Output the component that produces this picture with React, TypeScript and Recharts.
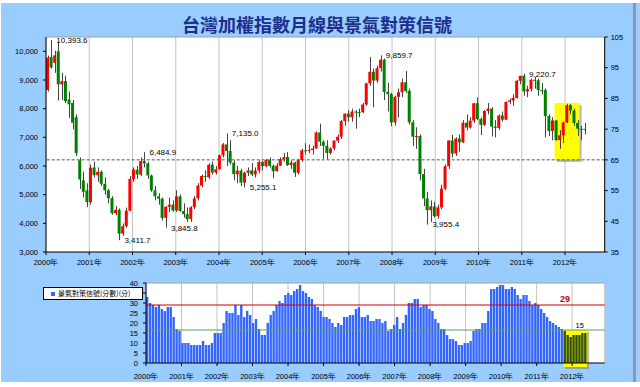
import {
  ComposedChart, Bar, XAxis, YAxis, CartesianGrid, ReferenceLine, ReferenceArea, ReferenceDot, Legend, Cell,
} from 'recharts'

// monthly TAIEX candles [open, high, low, close]
const k2000 = [
  [8650, 9850, 8600, 9780], [9800, 10393.6, 9400, 9436], [9600, 10020, 9250, 9860], [10000, 10330, 8280, 8850],
  [8850, 9250, 8300, 8960], [8960, 9150, 8200, 8265], [8320, 8600, 7680, 8150], [8200, 8300, 7280, 7510],
  [7700, 7800, 6350, 6450], [6200, 6300, 5200, 5530], [5500, 5800, 4900, 5100], [5150, 5400, 4570, 4740],
]
const k2001 = [
  [4740, 6050, 4650, 5940], [5950, 6150, 5600, 5680], [5680, 5950, 5450, 5800], [5800, 5850, 5300, 5380],
  [5380, 5600, 5000, 5150], [5150, 5200, 4700, 4880], [4880, 4950, 4300, 4350], [4350, 4600, 4280, 4470],
  [4470, 4520, 3411.7, 3640], [3640, 4000, 3560, 3900], [3900, 4550, 3850, 4440], [4440, 5650, 4420, 5550],
]
const k2002 = [
  [5550, 5950, 5450, 5870], [5870, 6000, 5550, 5700], [5700, 6300, 5650, 6170], [6170, 6484.9, 5950, 6090],
  [6090, 6150, 5550, 5670], [5670, 5700, 5100, 5150], [5150, 5300, 4800, 4940], [4940, 5050, 4650, 4860],
  [4860, 4900, 4100, 4190], [4190, 4600, 3845.8, 4580], [4580, 4900, 4400, 4650], [4650, 4800, 4400, 4450],
]
const k2003 = [
  [4450, 5150, 4400, 4940], [4940, 5000, 4400, 4430], [4430, 4700, 4200, 4320], [4320, 4550, 4045, 4150],
  [4150, 4600, 4050, 4560], [4560, 4950, 4500, 4870], [4870, 5400, 4800, 5320], [5320, 5700, 5250, 5650],
  [5650, 5850, 5450, 5610], [5610, 6100, 5550, 6045], [6045, 6150, 5700, 5770], [5770, 6000, 5700, 5890],
]
const k2004 = [
  [5890, 6400, 5870, 6375], [6375, 6800, 6300, 6751], [6751, 7135.0, 6000, 6522], [6522, 6900, 6050, 6117],
  [6117, 6200, 5500, 5713], [5713, 6000, 5400, 5839], [5839, 5900, 5300, 5420], [5420, 5800, 5255.1, 5765],
  [5765, 5950, 5650, 5845], [5845, 6100, 5650, 5705], [5705, 5950, 5600, 5844], [5844, 6200, 5750, 6140],
]
const k2005 = [
  [6140, 6180, 5850, 5994], [5994, 6250, 5950, 6207], [6207, 6300, 5950, 6006], [6006, 6050, 5570, 5819],
  [5819, 6100, 5800, 6012], [6012, 6300, 6000, 6241], [6241, 6450, 6150, 6312], [6312, 6480, 6000, 6033],
  [6033, 6200, 5900, 6119], [6119, 6150, 5620, 5764], [5764, 6250, 5700, 6203], [6203, 6600, 6150, 6548],
]
const k2006 = [
  [6548, 6800, 6400, 6532], [6532, 6750, 6450, 6561], [6561, 6700, 6400, 6613], [6613, 7200, 6600, 7171],
  [7171, 7474, 6700, 6846], [6846, 6900, 6250, 6704], [6704, 6900, 6232, 6455], [6455, 6650, 6400, 6611],
  [6611, 6900, 6550, 6884], [6884, 7100, 6800, 7021], [7021, 7600, 6950, 7567], [7567, 7850, 7400, 7823],
]
const k2007 = [
  [7823, 7950, 7550, 7699], [7699, 8000, 7550, 7901], [7901, 7950, 7300, 7884], [7884, 8000, 7700, 7875],
  [7875, 8200, 7850, 8145], [8145, 8900, 8100, 8883], [8883, 9800, 8800, 9287], [9287, 9400, 8050, 8982],
  [8982, 9500, 8900, 9411], [9411, 9859.7, 9300, 9711], [9711, 9750, 8300, 8586], [8586, 8900, 7900, 8506],
]
const k2008 = [
  [8506, 8550, 7384, 7521], [7521, 8450, 7400, 8412], [8412, 8700, 7700, 8572], [8572, 9050, 8400, 8920],
  [8920, 9309, 8550, 8619], [8619, 8700, 7450, 7524], [7524, 7600, 6700, 7024], [7024, 7350, 6600, 7046],
  [7046, 7100, 5500, 5719], [5719, 5900, 4600, 4870], [4870, 5100, 3955.4, 4460], [4460, 4800, 4050, 4591],
]
const k2009 = [
  [4591, 4750, 4200, 4248], [4248, 4650, 4160, 4557], [4557, 5350, 4500, 5210], [5210, 6050, 5150, 5992],
  [5992, 6900, 5900, 6890], [6890, 7084, 6300, 6432], [6432, 7000, 6350, 6958], [6958, 7100, 6500, 6826],
  [6826, 7600, 6800, 7509], [7509, 7800, 7250, 7340], [7340, 7700, 7300, 7582], [7582, 8200, 7500, 8188],
]
const k2010 = [
  [8188, 8395, 7600, 7640], [7640, 7700, 7080, 7436], [7436, 7950, 7400, 7920], [7920, 8200, 7800, 8004],
  [8004, 8050, 7030, 7374], [7374, 7600, 7000, 7329], [7329, 7800, 7250, 7761], [7761, 7900, 7550, 7616],
  [7616, 8250, 7600, 8238], [8238, 8350, 8150, 8287], [8287, 8500, 8100, 8372], [8372, 9000, 8350, 8973],
]
const k2011 = [
  [8973, 9150, 8850, 9145], [9145, 9220.7, 8450, 8600], [8600, 8800, 8400, 8683], [8683, 9050, 8600, 9008],
  [9008, 9100, 8700, 8989], [8989, 9050, 8450, 8653], [8653, 8900, 8500, 8644], [8644, 8700, 7000, 7741],
  [7741, 7800, 7050, 7225], [7225, 7700, 6900, 7588], [7588, 7600, 6880, 6904], [6904, 7250, 6600, 7072],
]
const k2012 = [
  [7072, 7550, 6800, 7517], [7517, 8170, 7500, 8121], [8121, 8170, 7800, 7933], [7933, 8000, 7400, 7501],
  [7501, 7600, 7050, 7301], [7301, 7400, 6900, 7296], [7296, 7500, 7100, 7270],
]

// 景氣對策信號 scores
const s2000 = [33, 30, 29, 28, 29, 27, 26, 28, 28, 23, 17, 16]
const s2001 = [10, 10, 10, 9, 9, 9, 9, 11, 9, 9, 10, 15]
const s2002 = [15, 15, 20, 26, 25, 25, 29, 24, 29, 23, 26, 24]
const s2003 = [20, 22, 17, 14, 14, 20, 24, 26, 29, 31, 30, 34]
const s2004 = [35, 34, 36, 37, 39, 36, 35, 33, 32, 29, 28, 26]
const s2005 = [23, 23, 22, 20, 18, 20, 19, 23, 23, 24, 24, 27]
const s2006 = [28, 23, 23, 24, 21, 21, 22, 22, 20, 21, 16, 17]
const s2007 = [19, 23, 17, 20, 24, 30, 30, 32, 32, 28, 29, 29]
const s2008 = [27, 26, 22, 20, 17, 17, 14, 12, 12, 11, 9, 9]
const s2009 = [10, 10, 11, 16, 17, 17, 20, 20, 26, 37, 37, 38]
const s2010 = [39, 39, 37, 37, 38, 37, 34, 32, 34, 34, 31, 29]
const s2011 = [30, 29, 27, 25, 23, 21, 20, 19, 18, 17, 16, 14]
const s2012 = [13, 14, 14, 14, 15, 15]

const YEAR_LABELS = ['2000年', '2001年', '2002年', '2003年', '2004年', '2005年', '2006年', '2007年', '2008年', '2009年', '2010年', '2011年', '2012年']
const YEAR_TICKS = [0, 12, 24, 36, 48, 60, 72, 84, 96, 108, 120, 132, 144]
const LEFT_TICKS = [3000, 4000, 5000, 6000, 7000, 8000, 9000, 10000]
const RIGHT_TICKS = [35, 45, 55, 65, 75, 85, 95, 105]
const SCORE_TICKS = [0, 5, 10, 15, 20, 25, 30, 35, 40]

const NOTES = [
  { m: '2000-02', v: 10393.6 }, { m: '2001-09', v: 3411.7 }, { m: '2002-04', v: 6484.9 },
  { m: '2002-10', v: 3845.8 }, { m: '2004-03', v: 7135.0 }, { m: '2004-08', v: 5255.1 },
  { m: '2007-10', v: 9859.7 }, { m: '2008-11', v: 3955.4 }, { m: '2011-02', v: 9220.7 },
]
const HOT = 29
const COLD = 16.5
const LATEST = { m: '2012-04', v: 15 }
const HL = { from: '2011-11', toK: '2012-05', toS: '2012-06', lo: 65, hi: 83.5 }

const MONTHS: string[] = []
for (let y = 2000; y <= 2012; y++) for (let mm = 1; mm <= 12; mm++) MONTHS.push(`${y}-${String(mm).padStart(2, '0')}`)

const K = [...k2000, ...k2001, ...k2002, ...k2003, ...k2004, ...k2005, ...k2006, ...k2007, ...k2008, ...k2009, ...k2010, ...k2011, ...k2012]
const S = [...s2000, ...s2001, ...s2002, ...s2003, ...s2004, ...s2005, ...s2006, ...s2007, ...s2008, ...s2009, ...s2010, ...s2011, ...s2012]

const data = MONTHS.map((m, i) => {
  const k = K[i]
  return { m, o: k?.[0], h: k?.[1], l: k?.[2], c: k?.[3], s: S[i] }
})
const hlStart = MONTHS.indexOf(HL.from)

const FONT = '"Liberation Sans", Arial, sans-serif'
const tickStyle = { fontSize: 7.5, fill: '#000', fontFamily: FONT }
const fmt = (v: number) => v.toLocaleString('en-US')

function Candle(props: any) {
  const { x, y, width, height, payload } = props
  if (payload?.o == null) return null
  const { o, h, l, c } = payload
  const top = Math.min(y, y + height)
  const hh = Math.abs(height)
  const k = hh / (h - l || 1)
  const b1 = top + (h - Math.max(o, c)) * k
  const b2 = top + (h - Math.min(o, c)) * k
  const cx = Math.round(x + width / 2) + 0.5
  return (
    <g>
      <line x1={cx} x2={cx} y1={top} y2={top + hh} stroke="#444" strokeWidth={1} />
      <rect x={x} y={b1} width={width} height={Math.max(1, b2 - b1)} fill={c >= o ? '#ff0000' : '#008000'} />
    </g>
  )
}

function Box(props: any) {
  const { x, y, width, height } = props
  return (
    <g>
      <rect x={x + 2} y={y + 2} width={width} height={height} fill="#8a8a66" fillOpacity={0.6} />
      <rect x={x} y={y} width={width} height={height} fill="#ffff00" />
    </g>
  )
}

function ScoreLegend() {
  return (
    <div style={{ width: 98, height: 11, border: '1px solid #000', background: '#fff', display: 'flex', alignItems: 'center', fontSize: 7, fontFamily: '"Noto Sans CJK TC", sans-serif', lineHeight: '11px' }}>
      <span style={{ width: 4, height: 4, background: '#3366ff', margin: '0 3px 0 7px' }} />
      景氣對策信號(分數)(分)
    </div>
  )
}

export default function App() {
  return (
    <div style={{ position: 'absolute', left: 0, top: 0, width: 640, height: 387, background: '#fff', overflow: 'hidden' }}>
      <div style={{ position: 'absolute', left: 1, top: 3, width: 632, height: 379, background: '#99ccff' }} />
      <div style={{ position: 'absolute', left: 633, top: 3, width: 3, height: 379, background: '#7e9bc6' }} />
      <div style={{ position: 'absolute', left: 636, top: 3, width: 4, height: 379, background: '#a9cbf2' }} />

      <svg width={640} height={40} style={{ position: 'absolute', left: 0, top: 0 }}>
        <text x={317} y={32} textAnchor="middle" fontSize={18} fontWeight={700} fill="#1e2d8c" fontFamily='"Noto Sans CJK TC", sans-serif'>
          台灣加權指數月線與景氣對策信號
        </text>
      </svg>

      <div style={{ position: 'absolute', left: 0, top: 0 }}>
        <ComposedChart width={640} height={272} data={data} margin={{ top: 37, left: 6, right: 5.3, bottom: 0 }}>
          <CartesianGrid xAxisId="yr" yAxisId="l" horizontal={false} stroke="#c4c4c4" fill="#fff" fillOpacity={1} />
          <XAxis xAxisId="yr" type="number" domain={[0, 156]} allowDataOverflow ticks={YEAR_TICKS} interval={0}
            tickFormatter={(v: number) => YEAR_LABELS[v / 12]} height={20} tickSize={3} tickMargin={5}
            axisLine={{ stroke: '#000' }} tickLine={{ stroke: '#000' }} tick={tickStyle} />
          <XAxis xAxisId="cat" dataKey="m" hide height={0} />
          <YAxis yAxisId="l" width={40} domain={[3000, 10500]} allowDataOverflow ticks={LEFT_TICKS} interval={0}
            tickFormatter={fmt} tickSize={3} tickMargin={5} axisLine={{ stroke: '#000' }} tickLine={{ stroke: '#000' }} tick={tickStyle} />
          <YAxis yAxisId="r" orientation="right" width={30} domain={[35, 105]} allowDataOverflow ticks={RIGHT_TICKS} interval={0}
            tickSize={3} tickMargin={3} axisLine={{ stroke: '#000' }} tickLine={{ stroke: '#000' }} tick={tickStyle} />
          <ReferenceLine xAxisId="yr" yAxisId="l" y={10500} stroke="#a0a0a0" />
          <ReferenceArea xAxisId="cat" yAxisId="r" x1={HL.from} x2={HL.toK} y1={HL.lo} y2={HL.hi} shape={Box} />
          <ReferenceLine xAxisId="yr" yAxisId="r" y={65} stroke="#555" strokeDasharray="3 2" />
          <Bar xAxisId="cat" yAxisId="l" dataKey={(d: any) => (d.o == null ? undefined : [d.l, d.h])}
            barSize={3} shape={Candle} isAnimationActive={false} />
          {NOTES.map((n) => (
            <ReferenceDot key={n.m} xAxisId="cat" yAxisId="l" x={n.m} y={n.v} r={0} stroke="none"
              label={{ value: n.v.toLocaleString('en-US', { minimumFractionDigits: 1 }), position: 'right', offset: 5, fontSize: 8, fill: '#000', fontFamily: FONT }} />
          ))}
        </ComposedChart>
      </div>

      <div style={{ position: 'absolute', left: 0, top: 275 }}>
        <ComposedChart width={640} height={110} data={data} margin={{ top: 8, left: 6, right: 35.3, bottom: 2 }}>
          <CartesianGrid xAxisId="yr" yAxisId="n" horizontal={false} stroke="#c4c4c4" fill="#fff" fillOpacity={1} />
          <XAxis xAxisId="yr" type="number" domain={[0, 156]} allowDataOverflow ticks={YEAR_TICKS} interval={0}
            tickFormatter={(v: number) => YEAR_LABELS[v / 12]} height={20} tickSize={3} tickMargin={8}
            axisLine={{ stroke: '#000' }} tickLine={{ stroke: '#000' }} tick={tickStyle} />
          <XAxis xAxisId="cat" dataKey="m" hide height={0} />
          <YAxis yAxisId="n" width={40} domain={[0, 40]} allowDataOverflow ticks={SCORE_TICKS} interval={0}
            tickSize={3} tickMargin={5} axisLine={{ stroke: '#000' }} tickLine={{ stroke: '#000' }} tick={tickStyle} />
          <ReferenceLine xAxisId="yr" yAxisId="n" y={40} stroke="#a0a0a0" />
          <ReferenceLine xAxisId="yr" yAxisId="n" x={156} stroke="#808080" />
          <ReferenceArea xAxisId="cat" yAxisId="n" x1={HL.from} x2={HL.toS} y1={-2} y2={COLD} ifOverflow="visible" shape={Box} />
          <ReferenceLine xAxisId="yr" yAxisId="n" y={HOT} stroke="#cc0000" />
          <ReferenceLine xAxisId="yr" yAxisId="n" y={COLD} stroke="#5a9e5a" />
          <Bar xAxisId="cat" yAxisId="n" dataKey="s" barSize={2.4} fill="#3366ff" isAnimationActive={false}>
            {data.map((d, i) => <Cell key={d.m} fill={i >= hlStart ? '#33500e' : '#3366ff'} />)}
          </Bar>
          <ReferenceDot xAxisId="cat" yAxisId="n" x={HL.from} y={HOT} r={0} stroke="none"
            label={{ value: String(HOT), position: 'top', offset: 3, fontSize: 9, fontWeight: 700, fill: '#cc0000', fontFamily: FONT }} />
          <ReferenceDot xAxisId="cat" yAxisId="n" x={LATEST.m} y={LATEST.v} r={0} stroke="none"
            label={{ value: String(LATEST.v), position: 'top', offset: 5, fontSize: 7.5, fill: '#000', fontFamily: FONT }} />
          <Legend verticalAlign="middle" align="left" layout="horizontal" content={ScoreLegend}
            wrapperStyle={{ left: 43, top: 12, width: 'auto' }} />
        </ComposedChart>
      </div>
    </div>
  )
}
